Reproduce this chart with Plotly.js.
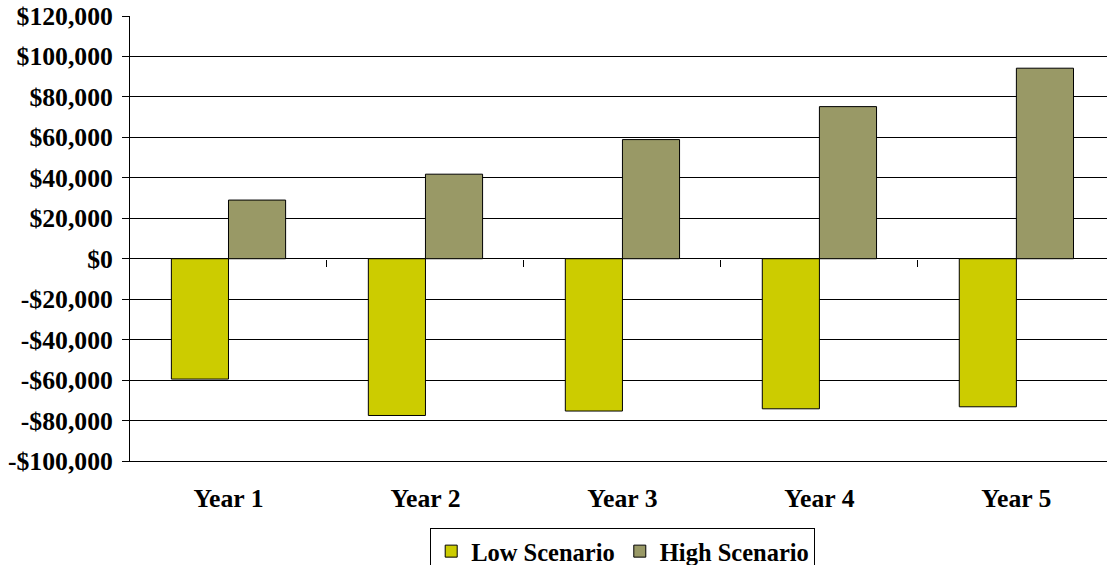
<!DOCTYPE html>
<html>
<head>
<meta charset="utf-8">
<script src="https://cdn.plot.ly/plotly-3.0.1.min.js"></script>
<style>
  html, body { margin: 0; padding: 0; background: #ffffff; }
  #chart { width: 1107px; height: 565px; }
</style>
</head>
<body>
<div id="chart"></div>
<script>
// Five-year projection, two scenarios
const years = ['Year 1', 'Year 2', 'Year 3', 'Year 4', 'Year 5'];
const lowScenario = [-59500, -77500, -75300, -74200, -73200];
const highScenario = [29000, 41800, 58900, 75200, 94200];

// Value axis ticks and their labels
const yTickVals = [-100000, -80000, -60000, -40000, -20000, 0, 20000, 40000, 60000, 80000, 100000, 120000];
const yTickText = ['-$100,000', '-$80,000', '-$60,000', '-$40,000', '-$20,000', '$0',
                   '$20,000', '$40,000', '$60,000', '$80,000', '$100,000', '$120,000'];
// Category boundaries marked on the zero line
const boundaryTicks = [0.5, 1.5, 2.5, 3.5];

const serif = 'Liberation Serif, Times New Roman, serif';
const tickSize = 25.7;
const xRange = [-0.5, 4.46];
const yRange = [-100000, 120000];

const traces = [
  {
    type: 'bar', name: 'Low Scenario', x: years, y: lowScenario,
    marker: { color: '#CCCC00', line: { color: '#000000', width: 1 } },
    hoverinfo: 'skip'
  },
  {
    type: 'bar', name: 'High Scenario', x: years, y: highScenario,
    marker: { color: '#999966', line: { color: '#000000', width: 1 } },
    hoverinfo: 'skip'
  },
  {
    // carrier for the overlay axis that draws the boundary ticks
    type: 'scatter', mode: 'none', x: [0], y: [0], xaxis: 'x2', yaxis: 'y',
    showlegend: false, hoverinfo: 'skip'
  }
];

const layout = {
  width: 1107, height: 565,
  margin: { l: 130, r: 0, t: 16, b: 104, pad: 0 },
  paper_bgcolor: '#ffffff', plot_bgcolor: '#ffffff',
  font: { family: serif, size: tickSize, color: '#000000', weight: 'bold' },
  barmode: 'group', bargap: 0.42, bargroupgap: 0,
  showlegend: true,
  legend: {
    orientation: 'h', xref: 'container', yref: 'container',
    x: 0.5625, xanchor: 'center', y: 0.066, yanchor: 'top',
    bordercolor: '#000000', borderwidth: 1, bgcolor: '#ffffff',
    font: { family: serif, size: 24.5, color: '#000000', weight: 'bold' },
    itemwidth: 30, tracegroupgap: 0
  },
  xaxis: {
    type: 'category', range: xRange, fixedrange: true,
    showline: true, linecolor: '#000000', linewidth: 1, mirror: false,
    showgrid: false, zeroline: false,
    ticks: 'outside', ticklen: 14, tickcolor: 'rgba(0,0,0,0)',
    tickfont: { family: serif, size: tickSize, color: '#000000', weight: 'bold' }
  },
  xaxis2: {
    type: 'linear', range: xRange, overlaying: 'x', anchor: 'free',
    position: 100000 / 220000, side: 'bottom', fixedrange: true,
    showline: false, showgrid: false, zeroline: false,
    tickmode: 'array', tickvals: boundaryTicks, showticklabels: false,
    ticks: 'outside', ticklen: 7, tickwidth: 1, tickcolor: '#000000'
  },
  yaxis: {
    range: yRange, fixedrange: true,
    tickmode: 'array', tickvals: yTickVals, ticktext: yTickText,
    showline: true, linecolor: '#000000', linewidth: 1,
    showgrid: true, gridcolor: '#000000', gridwidth: 1,
    zeroline: true, zerolinecolor: '#000000', zerolinewidth: 1,
    ticks: 'outside', ticklen: 7, tickwidth: 1, tickcolor: '#000000',
    ticklabelstandoff: 4,
    tickfont: { family: serif, size: tickSize, color: '#000000', weight: 'bold' }
  }
};

Plotly.newPlot('chart', traces, layout, { displayModeBar: false, staticPlot: true });
</script>
</body>
</html>
